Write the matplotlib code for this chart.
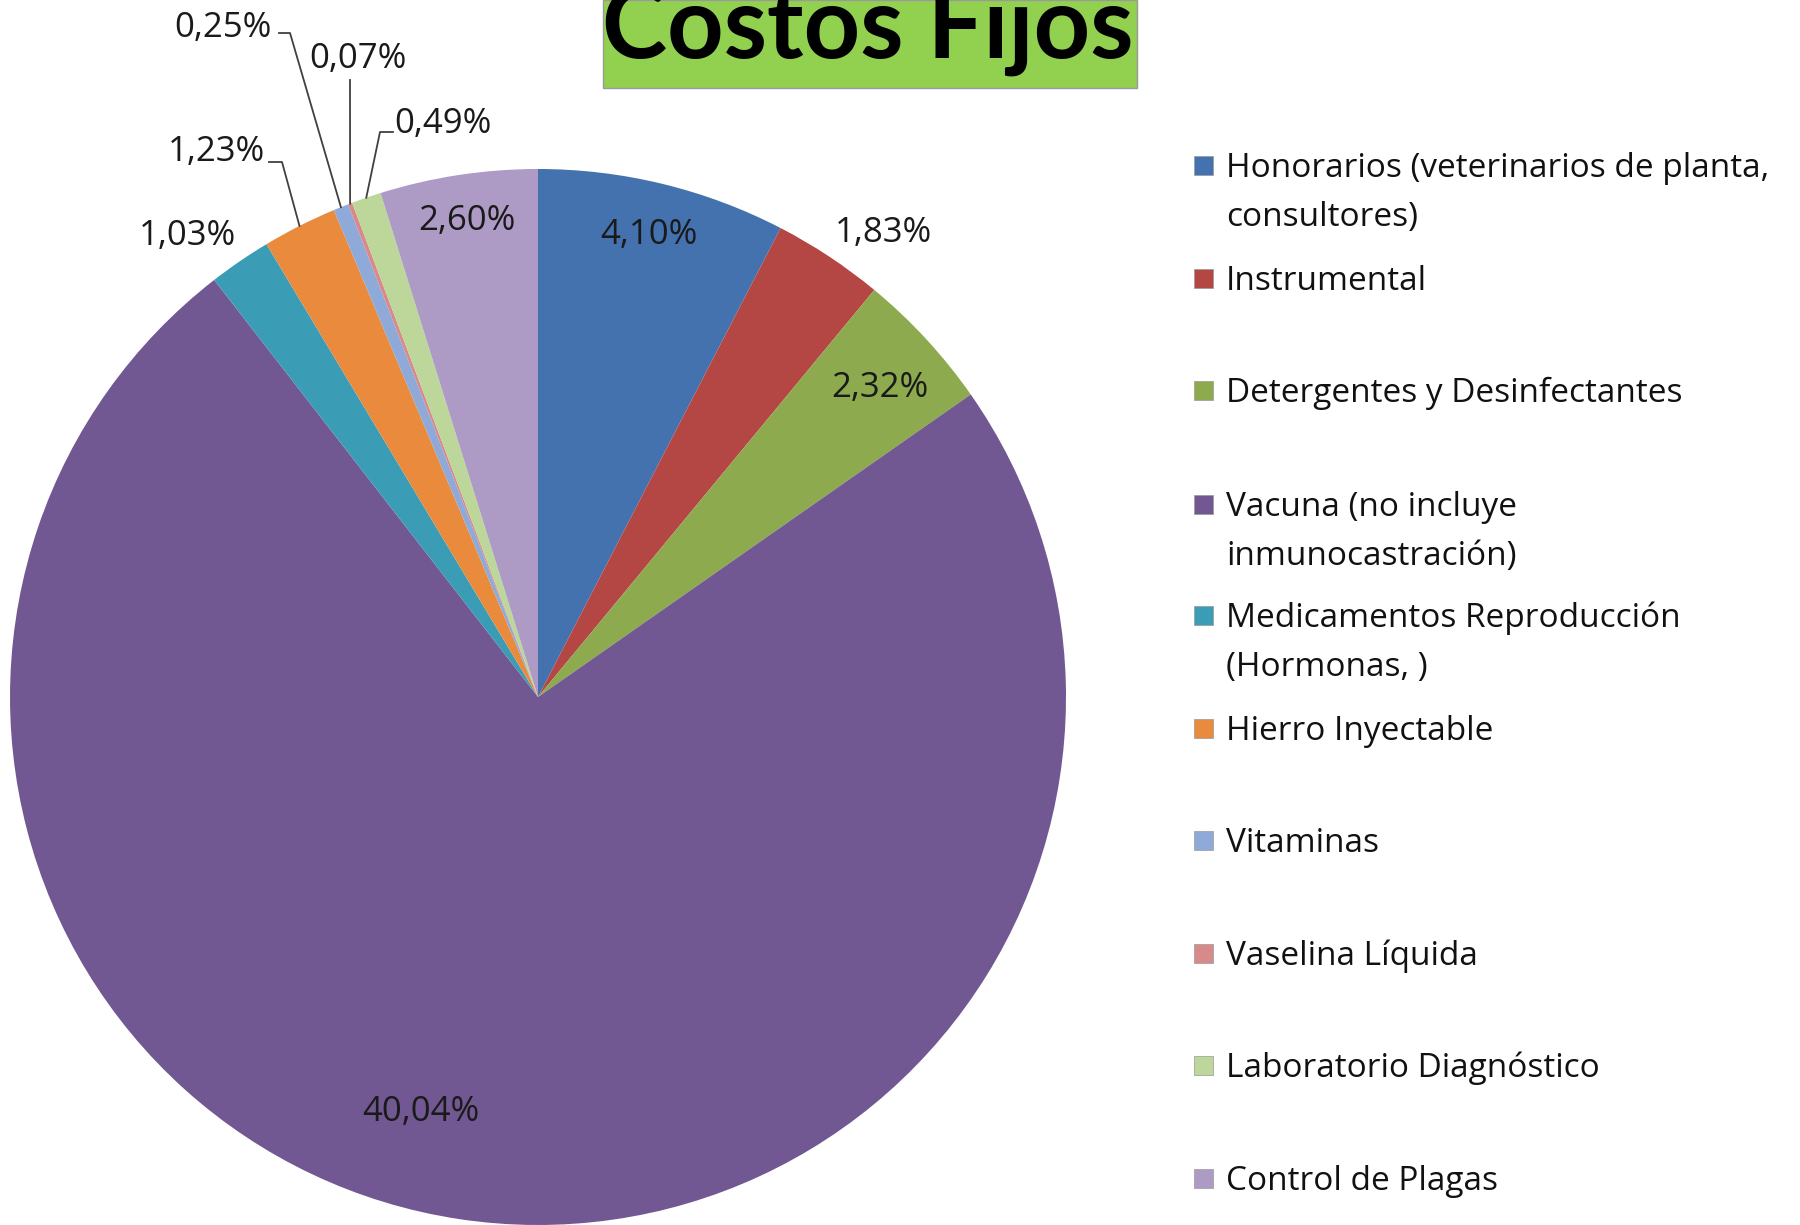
import numpy as np
import matplotlib.pyplot as plt
from matplotlib.patches import Rectangle

plt.rcParams['font.family'] = ['Open Sans', 'DejaVu Sans']

# Costos fijos, % sobre el costo total
categorias = ["Honorarios (veterinarios de planta,\nconsultores)",
              "Instrumental",
              "Detergentes y Desinfectantes",
              "Vacuna (no incluye\ninmunocastración)",
              "Medicamentos Reproducción\n(Hormonas, )",
              "Hierro Inyectable",
              "Vitaminas",
              "Vaselina Líquida",
              "Laboratorio Diagnóstico",
              "Control de Plagas"]
porcentajes = [4.10, 1.83, 2.32, 40.04, 1.03, 1.23, 0.25, 0.07, 0.49, 2.60]
colores = ["#4472AF", "#B44744", "#8DAA4E", "#725892", "#3A9CB5",
           "#E98A3C", "#8FA9D8", "#D8898A", "#BDD79A", "#AD9BC6"]

W, H = 1800, 1225
fig = plt.figure(figsize=(18, 12.25), dpi=100)
ax = fig.add_axes([0, 0, 1, 1])

def py(y):
    # pixel row (from top) -> data y
    return H - y

cx, cy, r = 538, 697, 528
wedges, _ = ax.pie(porcentajes, colors=colores, startangle=90, counterclock=False,
                   center=(cx, py(cy)), radius=r, wedgeprops=dict(linewidth=0))
ax.set_xlim(0, W)
ax.set_ylim(0, H)
ax.axis('off')

# etiquetas de porcentaje (centro del texto en px)
label_pos = [(649, 232), (883, 230), (880, 385), (421, 1109), (187, 233),
             (216, 149), (223, 25), (358, 56), (443, 121), (467, 218)]
for v, (x, y) in zip(porcentajes, label_pos):
    txt = f"{v:.2f}".replace('.', ',') + '%'
    ax.text(x, py(y + 12), txt, fontsize=25, ha='center', va='baseline', color='#1a1a1a')

# lineas guia para los sectores chicos
guias = {5: [(269, 162), (282, 162)],
         6: [(279, 33), (290, 33)],
         7: [(350, 80), (350, 80)],
         8: [(393, 132), (380, 132)]}
total = sum(porcentajes)
cum = np.cumsum([0] + porcentajes)
for i, pts in guias.items():
    mid = (cum[i] + porcentajes[i] / 2) / total * 2 * np.pi
    ex = cx + r * np.sin(mid)
    ey = cy - r * np.cos(mid)
    xs = [p[0] for p in pts] + [ex]
    ys = [py(p[1]) for p in pts] + [py(ey)]
    ax.plot(xs, ys, color='#404040', lw=1.3)

# leyenda
leg_y = [166, 279, 391, 505, 616, 729, 841, 954, 1066, 1179]
for cat, col, y in zip(categorias, colores, leg_y):
    ax.add_patch(Rectangle((1194, py(y + 9)), 19, 19, facecolor=col, edgecolor='#999999', lw=0.5))
    for j, line in enumerate(cat.split('\n')):
        ax.text(1226, py(y + 11 + j * 49), line, fontsize=24, ha='left', va='baseline', color='#111111')

# titulo
ax.add_patch(Rectangle((603, py(88)), 534, 88, facecolor='#92D050', edgecolor='#9a9a9a', lw=1, clip_on=False))
ax.text(868, py(58), "Costos Fijos", fontsize=71, fontweight='bold', family=['Lato', 'DejaVu Sans'],
        ha='center', va='baseline', color='black')

fig.savefig("out.png", dpi=100)
